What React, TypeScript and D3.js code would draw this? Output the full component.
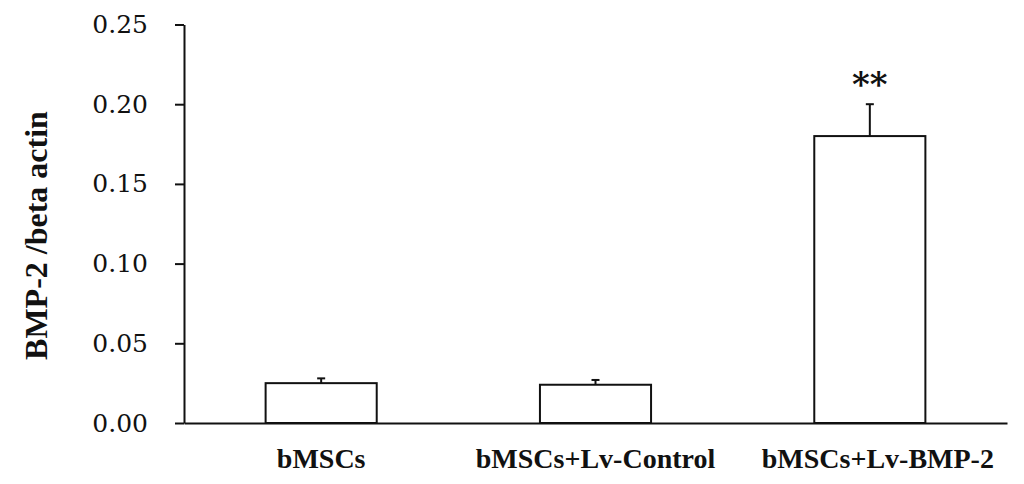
import React, { useEffect, useRef } from "react";
import * as d3 from "d3";

const categories = ["bMSCs", "bMSCs+Lv-Control", "bMSCs+Lv-BMP-2"];
const values = [0.025, 0.024, 0.18];
const errors = [0.003, 0.003, 0.02];
const significance = ["", "", "**"];
const yTicks = [0, 0.05, 0.1, 0.15, 0.2, 0.25];
const yLabel = "BMP-2 /beta actin";

const W = 1024;
const H = 484;
const margin = { left: 184, right: 17, top: 24.5, bottom: 61 };

export default function App() {
  const ref = useRef<SVGSVGElement>(null);

  useEffect(() => {
    const svg = d3.select(ref.current);
    svg.selectAll("*").remove();

    const x = d3
      .scaleBand<string>()
      .domain(categories)
      .range([margin.left, W - margin.right])
      .paddingInner(0.595)
      .paddingOuter(0.2975);
    const y = d3.scaleLinear().domain([0, 0.25]).range([H - margin.bottom, margin.top]);

    const g = svg.append("g");

    // bars
    g.selectAll("rect.bar")
      .data(categories)
      .join("rect")
      .attr("class", "bar")
      .attr("x", (d) => x(d)!)
      .attr("y", (_, i) => y(values[i]))
      .attr("width", x.bandwidth())
      .attr("height", (_, i) => y(0) - y(values[i]))
      .attr("fill", "#fff")
      .attr("stroke", "#111")
      .attr("stroke-width", 2);

    // error bars (upper only)
    const cap = 8;
    categories.forEach((c, i) => {
      const cx = x(c)! + x.bandwidth() / 2;
      g.append("line")
        .attr("x1", cx)
        .attr("x2", cx)
        .attr("y1", y(values[i]))
        .attr("y2", y(values[i] + errors[i]))
        .attr("stroke", "#111")
        .attr("stroke-width", 2);
      g.append("line")
        .attr("x1", cx - cap / 2)
        .attr("x2", cx + cap / 2)
        .attr("y1", y(values[i] + errors[i]))
        .attr("y2", y(values[i] + errors[i]))
        .attr("stroke", "#111")
        .attr("stroke-width", 2);
      if (significance[i]) {
        g.append("text")
          .attr("x", cx)
          .attr("y", y(values[i] + errors[i]) - 8)
          .attr("text-anchor", "middle")
          .attr("font-family", "DejaVu Serif")
          .attr("font-weight", "bold")
          .attr("font-size", 34)
          .attr("fill", "#111")
          .text(significance[i]);
      }
    });

    // y axis
    const yAxis = d3
      .axisLeft(y)
      .tickValues(yTicks)
      .tickFormat(d3.format(".2f"))
      .tickSize(9)
      .tickSizeOuter(0)
      .tickPadding(27);
    const ya = svg
      .append("g")
      .attr("transform", `translate(${margin.left},0)`)
      .call(yAxis);
    ya.selectAll("path,line").attr("stroke", "#111").attr("stroke-width", 2);
    ya.selectAll("text")
      .attr("font-family", "DejaVu Serif")
      .attr("font-size", 25)
      .attr("fill", "#111");

    // x axis
    const xAxis = d3.axisBottom(x).tickSize(0).tickSizeOuter(0).tickPadding(25);
    const xa = svg
      .append("g")
      .attr("transform", `translate(0,${H - margin.bottom})`)
      .call(xAxis);
    xa.select("path").attr("stroke", "#111").attr("stroke-width", 2);
    xa.selectAll("text")
      .attr("font-family", "Liberation Serif")
      .attr("font-weight", "bold")
      .attr("font-size", 28)
      .attr("fill", "#111")
      .attr("dx", (_, i) => (i === categories.length - 1 ? 8 : 0));

    // y label
    svg
      .append("text")
      .attr("transform", `translate(47,${235.5}) rotate(-90)`)
      .attr("text-anchor", "middle")
      .attr("font-family", "Liberation Serif")
      .attr("font-weight", "bold")
      .attr("font-size", 32)
      .attr("fill", "#111")
      .text(yLabel);
  }, []);

  return (
    <svg
      ref={ref}
      width={W}
      height={H}
      style={{ position: "absolute", left: 0, top: 0, background: "#fff" }}
    />
  );
}
